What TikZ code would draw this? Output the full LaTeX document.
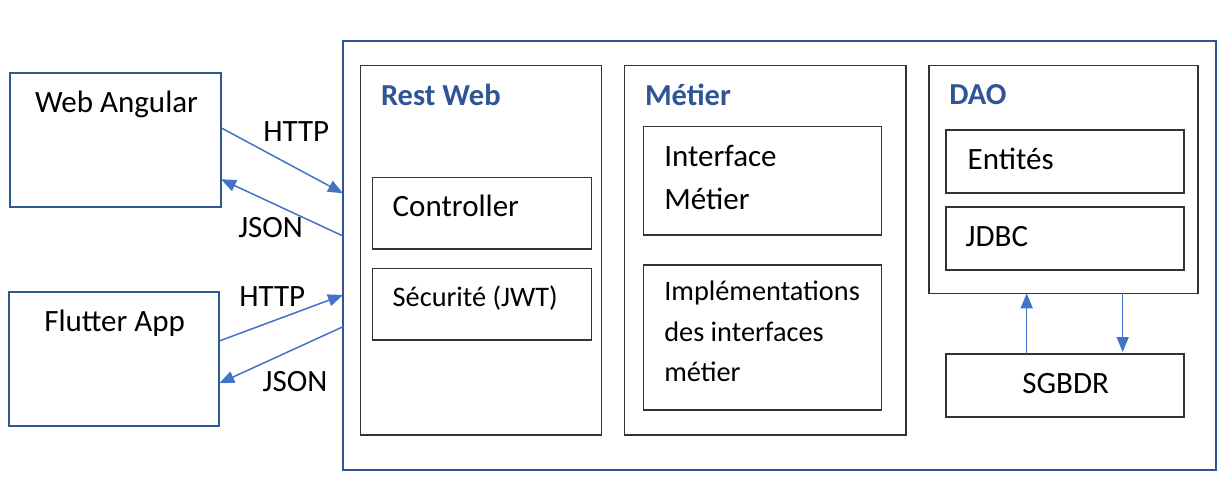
\documentclass[tikz,border=0pt]{standalone}
\usepackage{fontspec}
\setmainfont{Carlito}
\usetikzlibrary{calc,arrows.meta}
\definecolor{outerblue}{HTML}{2F5597}
\definecolor{boxblue}{HTML}{2E5A8E}
\definecolor{arrowblue}{HTML}{4472C4}
\definecolor{innergray}{HTML}{333333}
\tikzset{
  frame/.style={draw=outerblue,line width=2.5pt,inner sep=0pt,outer sep=0pt,anchor=north west},
  client/.style={draw=boxblue,line width=1.8pt,inner sep=0pt,outer sep=0pt,anchor=north west},
  layer/.style={draw=innergray,line width=1.3pt,inner sep=0pt,outer sep=0pt,anchor=north west},
  txt/.style={inner sep=0pt,outer sep=0pt,anchor=base west,font=\fontsize{31}{37}\selectfont},
  stxt/.style={inner sep=0pt,outer sep=0pt,anchor=base west,font=\fontsize{28.3}{34}\selectfont},
  title/.style={inner sep=0pt,outer sep=0pt,anchor=base west,text=outerblue,font=\fontsize{30.5}{36}\selectfont\bfseries},
  flow/.style={draw=arrowblue,line width=1.5pt,-{Triangle[length=15pt,width=12pt]}}
}
\begin{document}
\begin{tikzpicture}[x=1pt,y=-1pt]
\useasboundingbox (0,0) rectangle (1226,483);
% outer frame
\node[frame,minimum width=873pt,minimum height=429pt] (outer) at (343,41) {};
% clients
\node[client,minimum width=211pt,minimum height=134.6pt] (web) at (10,72.7) {};
\node[client,minimum width=210.6pt,minimum height=134.3pt] (flutter) at (8.7,291.7) {};
\node[txt] (webt) at (35,112.3) {Web Angular};
\node[txt] (fluttert) at (44.3,331) {Flutter App};
% layers
\node[layer,minimum width=241pt,minimum height=369.3pt] (rest) at (360.7,65.7) {};
\node[layer,minimum width=281.7pt,minimum height=369.3pt] (metier) at (624.3,65.7) {};
\node[layer,minimum width=269pt,minimum height=227.6pt] (dao) at (929,65.7) {};
\node[title] (restt) at (381,105) {Rest Web};
\node[title] (metiert) at (645,105) {Métier};
\node[title] (daot) at (949.3,104) {DAO};
% Rest Web components
\node[layer,minimum width=219.4pt,minimum height=71.7pt] (ctrl) at (372.3,177.3) {};
\node[layer,minimum width=219.4pt,minimum height=71.3pt] (secu) at (372.3,268.7) {};
\node[txt] (ctrlt) at (392.7,216.7) {Controller};
\node[stxt] (secut) at (392.7,306) {Sécurité (JWT)};
% Metier components
\node[layer,minimum width=238.4pt,minimum height=108.3pt] (itf) at (643.3,126.7) {};
\node[layer,minimum width=238.4pt,minimum height=145pt] (impl) at (643.3,265) {};
\node[txt] (itft1) at (664.3,166.7) {Interface};
\node[txt] (itft2) at (664.3,209.3) {Métier};
\node[stxt] (implt1) at (664.3,300.7) {Implémentations};
\node[stxt] (implt2) at (664.3,341.7) {des interfaces};
\node[stxt] (implt3) at (664.3,381.7) {métier};
% DAO components
\node[layer,minimum width=238pt,minimum height=63pt] (ent) at (946,130) {};
\node[layer,minimum width=238pt,minimum height=63pt] (jdbc) at (946,207) {};
\node[layer,minimum width=238pt,minimum height=63pt] (sgbdr) at (946,354) {};
\node[txt] (entt) at (967.7,169.3) {Entités};
\node[txt] (jdbct) at (965.7,246.7) {JDBC};
\node[txt,anchor=base] (sgbdrt) at (1065.7,393.3) {SGBDR};
% HTTP / JSON arrows
\draw[flow] ($(web.north east)!0.409!(web.south east)$) -- ($(outer.north west)!0.355!(outer.south west)$);
\draw[flow] ($(outer.north west)!0.4545!(outer.south west)$) -- ($(web.north east)!0.792!(web.south east)$);
\draw[flow] ($(flutter.north east)!0.367!(flutter.south east)$) -- ($(outer.north west)!0.592!(outer.south west)$);
\draw[flow] ($(outer.north west)!0.666!(outer.south west)$) -- ($(flutter.north east)!0.682!(flutter.south east)$);
\node[txt] (http1) at (263.3,141) {HTTP};
\node[txt] (json1) at (238.3,237.3) {JSON};
\node[txt] (http2) at (239.3,306) {HTTP};
\node[txt] (json2) at (262.7,391.7) {JSON};
% DAO <-> SGBDR
\coordinate (up) at ($(sgbdr.north west)!0.339!(sgbdr.north east)$);
\draw[flow] (up) -- (up |- dao.south);
\coordinate (down) at ($(dao.south west)!0.72!(dao.south east)$);
\draw[flow] (down) -- ([yshift=2pt]down |- sgbdr.north);
\end{tikzpicture}
\end{document}
